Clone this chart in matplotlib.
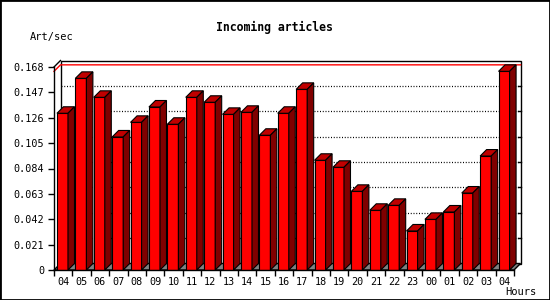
import matplotlib
matplotlib.use("Agg")
import matplotlib.pyplot as plt
from matplotlib.patches import Polygon, Rectangle

hours = ["04", "05", "06", "07", "08", "09", "10", "11", "12", "13", "14", "15",
         "16", "17", "18", "19", "20", "21", "22", "23", "00", "01", "02", "03", "04"]
rates = [0.1297, 0.1586, 0.1429, 0.1101, 0.1222, 0.1349, 0.1206, 0.1429, 0.1388,
         0.1288, 0.1305, 0.1115, 0.1297, 0.1495, 0.0908, 0.0850, 0.0651, 0.0494,
         0.0535, 0.0323, 0.0419, 0.0480, 0.0637, 0.0943, 0.1644]
y_ticks = [0, 0.021, 0.042, 0.063, 0.084, 0.105, 0.126, 0.147, 0.168]
y_labels = ["0", "0.021", "0.042", "0.063", "0.084", "0.105", "0.126", "0.147", "0.168"]

MONO = "DejaVu Sans Mono"
FRONT = "#ff0000"
TOP = "#c00000"
SIDE = "#800000"

fig = plt.figure(figsize=(5.5, 3), dpi=100)
fig.patch.set_facecolor("white")
fig.patches.append(Rectangle((0, 0), 1, 1, transform=fig.transFigure,
                             fill=False, edgecolor="black", linewidth=2))

ax = fig.add_axes([54 / 550, 30 / 300, 460 / 550, 203 / 300])
ax.set_facecolor("none")
n = len(hours)
ax.set_xlim(-0.5, n - 0.5)
ax.set_ylim(0, y_ticks[-1])
for side in ("top", "right"):
    ax.spines[side].set_visible(False)
for side in ("left", "bottom"):
    ax.spines[side].set_linewidth(1)
    ax.spines[side].set_zorder(4)

# depth of the 3d effect, 6.5 px expressed in data units
p0 = ax.transData.transform((0, 0))
p1 = ax.transData.transform((1, y_ticks[1]))
dx = 6.5 / (p1[0] - p0[0])
dy = 6.5 * y_ticks[1] / (p1[1] - p0[1])

x0, x1 = -0.5, n - 0.5
ytop = y_ticks[-1]

# back wall
ax.add_patch(Polygon([(x0 + dx, dy), (x1 + dx, dy), (x1 + dx, ytop + dy), (x0 + dx, ytop + dy)],
                     closed=True, facecolor="white", edgecolor="black", linewidth=1,
                     clip_on=False, zorder=0.5))
# floor
ax.add_patch(Polygon([(x0, 0), (x1, 0), (x1 + dx, dy), (x0 + dx, dy)],
                     closed=True, facecolor="#808080", edgecolor="black", linewidth=1,
                     clip_on=False, zorder=0.6))
# left wall top edge
ax.plot([x0, x0 + dx], [ytop, ytop + dy], color="black", lw=1, clip_on=False, zorder=0.7)

for v in y_ticks[1:-1]:
    ax.plot([x0 + dx, x1 + dx], [v + dy, v + dy], color="black", lw=0.9,
            linestyle=(0, (0.8, 1.4)), clip_on=False, zorder=0.7)
    ax.plot([x1 + dx - 0.15, x1 + dx], [v + dy, v + dy], color="black", lw=1,
            clip_on=False, zorder=0.7)

peak = max(rates)
ax.plot([x0, x0 + dx, x1 + dx], [peak, peak + dy, peak + dy], color="red", lw=1,
        clip_on=False, zorder=0.8)

left = [i - 0.5 + 0.16 for i in range(n)]
width = 0.6
bars = ax.bar(left, rates, width=width, align="edge", color=FRONT,
              edgecolor="black", linewidth=0.8, zorder=3)
for xl, v in zip(left, rates):
    xr = xl + width
    ax.add_patch(Polygon([(xl, v), (xr, v), (xr + dx, v + dy), (xl + dx, v + dy)],
                         closed=True, facecolor=TOP, edgecolor="black", linewidth=0.8,
                         clip_on=False, zorder=3))
    ax.add_patch(Polygon([(xr, 0), (xr + dx, dy), (xr + dx, v + dy), (xr, v)],
                         closed=True, facecolor=SIDE, edgecolor="black", linewidth=0.8,
                         clip_on=False, zorder=3))

ax.set_yticks(y_ticks, y_labels)
ax.set_xticks(range(n), hours)
ax.set_xticks([i - 0.5 for i in range(n + 1)], minor=True)
ax.tick_params(axis="y", length=4, width=1, pad=3, labelsize=7.3)
ax.tick_params(axis="x", which="major", length=0, pad=5, labelsize=7.3)
ax.tick_params(axis="x", which="minor", length=4, width=1)
for lab in ax.get_xticklabels() + ax.get_yticklabels():
    lab.set_fontfamily(MONO)

fig.text(274 / 550, 1 - 27 / 300, "Incoming articles", ha="center", va="center",
         fontsize=8.3, fontweight="bold", family=MONO)
fig.text(30 / 550, 1 - 37 / 300, "Art/sec", ha="left", va="center",
         fontsize=7.5, family=MONO)
fig.text(505 / 550, 1 - 292 / 300, "Hours", ha="left", va="center",
         fontsize=7.5, family=MONO)

fig.savefig("out.png", dpi=100)
